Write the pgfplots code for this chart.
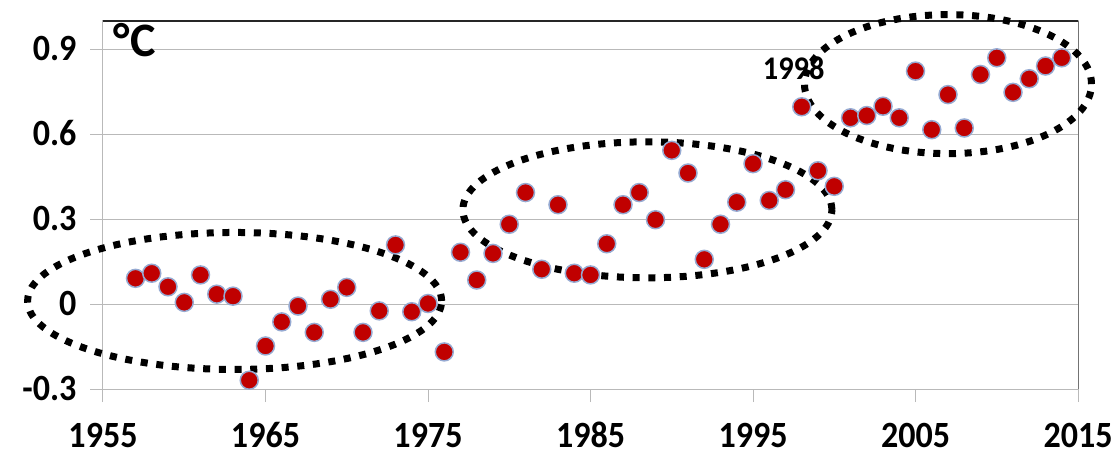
\documentclass[border=0pt]{standalone}
\usepackage{fontspec}
\setmainfont{Carlito}
\newfontfamily\tickfont{Carlito}[FakeStretch=0.92]
\usepackage{pgfplots}
\pgfplotsset{compat=1.18}
\definecolor{dotred}{RGB}{192,0,0}
\definecolor{dotedge}{RGB}{150,170,210}
\definecolor{gridgray}{RGB}{185,185,185}

\begin{document}
\begin{tikzpicture}
\begin{axis}[
    scale only axis,
    width=975pt, height=368pt,
    xmin=1955, xmax=2015,
    ymin=-0.3, ymax=1.0,
    xtick={1955,1965,1975,1985,1995,2005,2015},
    xticklabels={1955,1965,1975,1985,1995,2005,2015},
    ytick={-0.3,0,0.3,0.6,0.9},
    yticklabels={-0.3,0,0.3,0.6,0.9},
    tick align=outside,
    major tick length=13pt,
    tick style={draw=gridgray, line width=1pt},
    ymajorgrids=true,
    grid style={draw=gridgray, line width=1pt},
    axis line style={draw=gridgray, line width=1pt},
    ticklabel style={font=\tickfont\fontsize{37}{42}\selectfont\bfseries,
        text height=23pt, text depth=0pt},
    yticklabel style={xshift=-10pt},
    xticklabel style={yshift=-18.5pt},
    xtick pos=bottom, ytick pos=left,
    clip=false,
]
\addplot[only marks, mark=*, mark size=9pt,
    mark options={fill=dotred, draw=dotedge, line width=1.5pt}]
coordinates {
    (1957,0.091) (1958,0.109) (1959,0.061) (1960,0.006) (1961,0.103)
    (1962,0.035) (1963,0.028) (1964,-0.269) (1965,-0.148) (1966,-0.063)
    (1967,-0.007) (1968,-0.100) (1969,0.017) (1970,0.059) (1971,-0.100)
    (1972,-0.024) (1973,0.209) (1974,-0.027) (1975,0.002) (1976,-0.169)
    (1977,0.183) (1978,0.085) (1979,0.179) (1980,0.282) (1981,0.394)
    (1982,0.123) (1983,0.351) (1984,0.109) (1985,0.103) (1986,0.213)
    (1987,0.351) (1988,0.394) (1989,0.298) (1990,0.543) (1991,0.463)
    (1992,0.158) (1993,0.282) (1994,0.360) (1995,0.496) (1996,0.366)
    (1997,0.404) (1998,0.697) (1999,0.471) (2000,0.416) (2001,0.658)
    (2002,0.666) (2003,0.699) (2004,0.658) (2005,0.823) (2006,0.616)
    (2007,0.740) (2008,0.622) (2009,0.811) (2010,0.870) (2011,0.748)
    (2012,0.796) (2013,0.841) (2014,0.870)
};
% darker top and right frame lines
\draw[black!85, line width=1.2pt] (rel axis cs:0,1) -- (rel axis cs:1,1);
\draw[black!55, line width=1pt] (rel axis cs:1,0) -- (rel axis cs:1,1);
% ellipses
\draw[black, line width=7pt, dash pattern=on 7pt off 8.7pt]
    (axis cs:1963.1,0.011) ellipse [x radius=207pt, y radius=68.5pt];
\draw[black, line width=7pt, dash pattern=on 7pt off 8.7pt]
    (axis cs:1988.5,0.333) ellipse [x radius=184.5pt, y radius=68pt];
\draw[black, line width=7pt, dash pattern=on 7pt off 8.7pt]
    (axis cs:2007.0,0.777) ellipse [x radius=143.5pt, y radius=69.5pt];
\node[font=\tickfont\fontsize{33}{38}\selectfont\bfseries] at (axis cs:1997.5,0.832) {1998};
\node[anchor=north west, inner sep=0pt, font=\fontsize{48}{52}\selectfont\bfseries]
    at (rel axis cs:0.011,0.995) {°C};
\end{axis}
\pgfresetboundingbox
\path (-103pt,-66pt) rectangle (1015pt,389pt);
\end{tikzpicture}
\end{document}
